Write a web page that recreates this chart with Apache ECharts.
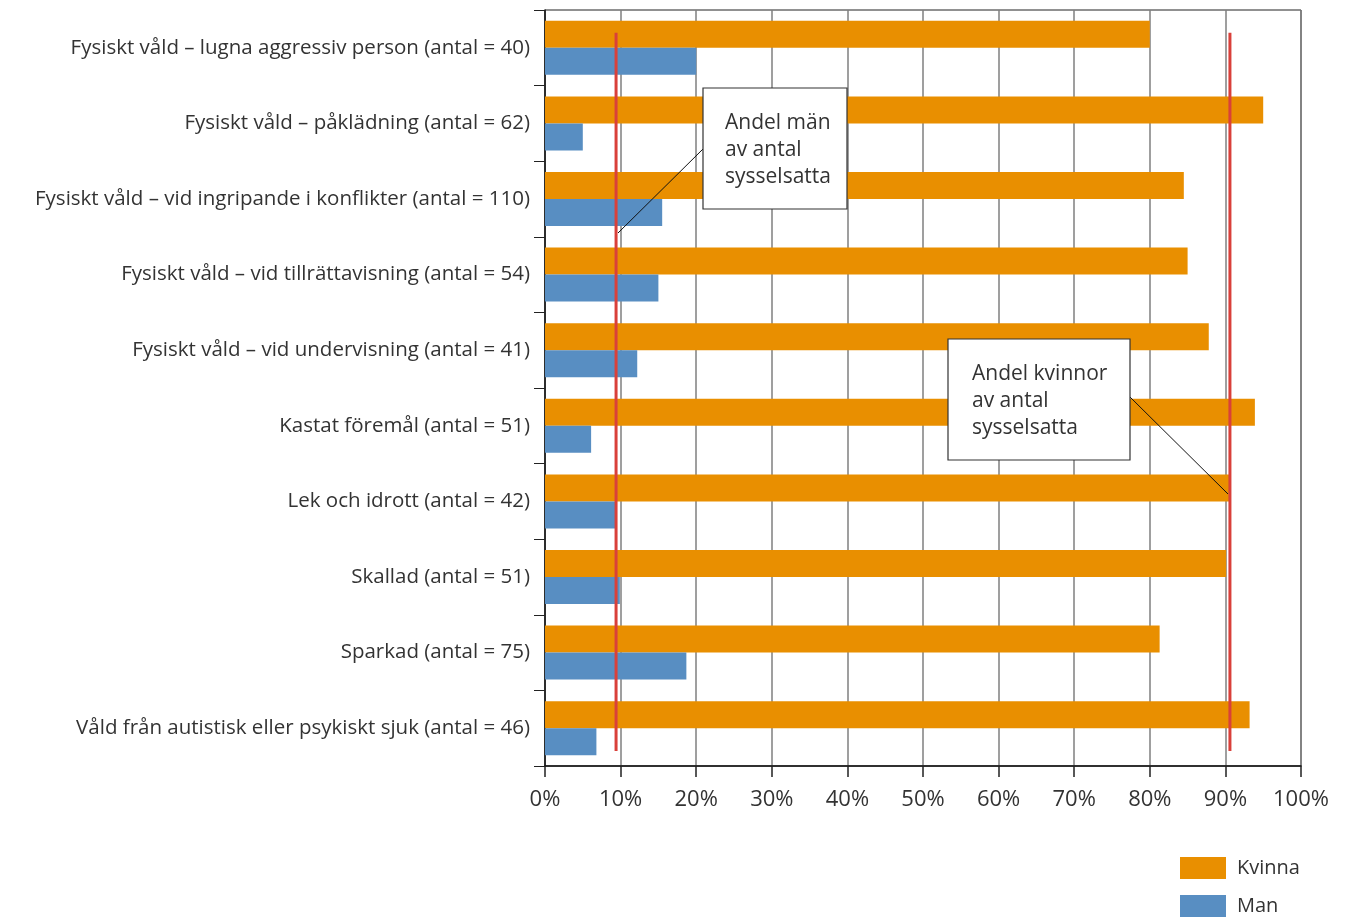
<!DOCTYPE html>
<html>
<head>
<meta charset="utf-8">
<script src="https://cdn.jsdelivr.net/npm/echarts@6/dist/echarts.min.js"></script>
<style>
  html, body { margin: 0; padding: 0; background: #fff; }
  #chart { width: 1363px; height: 919px; }
</style>
</head>
<body>
<div id="chart"></div>
<script>
const categories = [
  'Fysiskt våld – lugna aggressiv person (antal = 40)',
  'Fysiskt våld – påklädning (antal = 62)',
  'Fysiskt våld – vid ingripande i konflikter (antal = 110)',
  'Fysiskt våld – vid tillrättavisning (antal = 54)',
  'Fysiskt våld – vid undervisning (antal = 41)',
  'Kastat föremål (antal = 51)',
  'Lek och idrott (antal = 42)',
  'Skallad (antal = 51)',
  'Sparkad (antal = 75)',
  'Våld från autistisk eller psykiskt sjuk (antal = 46)'
]
const kvinna = [80.0, 95.0, 84.5, 85.0, 87.8, 93.9, 90.6, 90.1, 81.3, 93.2]
const man = [20.0, 5.0, 15.5, 15.0, 12.2, 6.1, 9.4, 9.9, 18.7, 6.8]

// share of employed (reference lines)
const andelMan = 9.4
const andelKvinnor = 90.6
const refSpan = [2, 97]   // vertical extent on hidden 0-100 axis

const font = '"Open Sans", "Noto Sans", sans-serif'
const textColor = '#333'

const chart = echarts.init(document.getElementById('chart'))

const option = {
  backgroundColor: '#fff',
  textStyle: { fontFamily: font },
  grid: {
    left: 545, right: 62, top: 10, bottom: 153,
    show: true, borderColor: '#222', borderWidth: 1, backgroundColor: 'transparent'
  },
  legend: {
    data: ['Kvinna', 'Man'],
    orient: 'vertical',
    left: 1180, top: 857, height: 80,
    padding: 0,
    itemWidth: 46, itemHeight: 22, itemGap: 16,
    icon: 'rect',
    textStyle: { fontSize: 20, color: textColor, fontFamily: font, padding: [0, 0, 0, 6] }
  },
  xAxis: {
    type: 'value',
    min: 0, max: 100, interval: 10,
    axisLine: { show: true, lineStyle: { color: '#111', width: 1.5 } },
    axisTick: { show: true, length: 11, lineStyle: { color: '#222', width: 1.5 } },
    axisLabel: { formatter: '{value}%', fontSize: 22, color: textColor, margin: 23, fontFamily: font },
    splitLine: { show: true, lineStyle: { color: '#7f7f7f', width: 1.5 } }
  },
  yAxis: [
    {
      type: 'category',
      data: categories,
      inverse: true,
      axisLine: { show: true, lineStyle: { color: '#111', width: 1.5 } },
      axisTick: { show: true, length: 11, lineStyle: { color: '#222', width: 1 } },
      axisLabel: { fontSize: 20.5, color: textColor, margin: 15, fontFamily: font, padding: [3, 0, 0, 0] },
      splitLine: { show: false }
    },
    { type: 'value', min: 0, max: 100, show: false }
  ],
  series: [
    {
      name: 'Kvinna', type: 'bar', data: kvinna,
      barWidth: 27, barGap: '0%',
      itemStyle: { color: '#e98f00' },
      z: 2
    },
    {
      name: 'Man', type: 'bar', data: man,
      barWidth: 27, barGap: '0%',
      itemStyle: { color: '#588ec2' },
      z: 2
    },
    {
      name: 'Andel män', type: 'line', yAxisIndex: 1,
      data: refSpan.map(v => [andelMan, v]),
      symbol: 'none', silent: true,
      lineStyle: { color: '#d9403a', width: 3 },
      z: 3
    },
    {
      name: 'Andel kvinnor', type: 'line', yAxisIndex: 1,
      data: refSpan.map(v => [andelKvinnor, v]),
      symbol: 'none', silent: true,
      lineStyle: { color: '#d9403a', width: 3 },
      z: 3
    }
  ],
  graphic: [
    // callout: men
    { type: 'line', shape: { x1: 703, y1: 149, x2: 618, y2: 233 }, style: { stroke: '#111', lineWidth: 1 }, z: 10 },
    { type: 'rect', shape: { x: 703, y: 88, width: 144, height: 121 }, style: { fill: '#fff', stroke: '#333', lineWidth: 1.2 }, z: 10 },
    {
      type: 'text', left: 725, top: 110, z: 11,
      style: { text: 'Andel män\nav antal\nsysselsatta', font: '21px ' + font, fill: textColor, lineHeight: 27 }
    },
    // callout: women
    { type: 'line', shape: { x1: 1130, y1: 397, x2: 1228, y2: 494 }, style: { stroke: '#111', lineWidth: 1 }, z: 10 },
    { type: 'rect', shape: { x: 948, y: 339, width: 182, height: 121 }, style: { fill: '#fff', stroke: '#333', lineWidth: 1.2 }, z: 10 },
    {
      type: 'text', left: 972, top: 361, z: 11,
      style: { text: 'Andel kvinnor\nav antal\nsysselsatta', font: '21px ' + font, fill: textColor, lineHeight: 27 }
    }
  ]
}

chart.setOption(option)
</script>
</body>
</html>
